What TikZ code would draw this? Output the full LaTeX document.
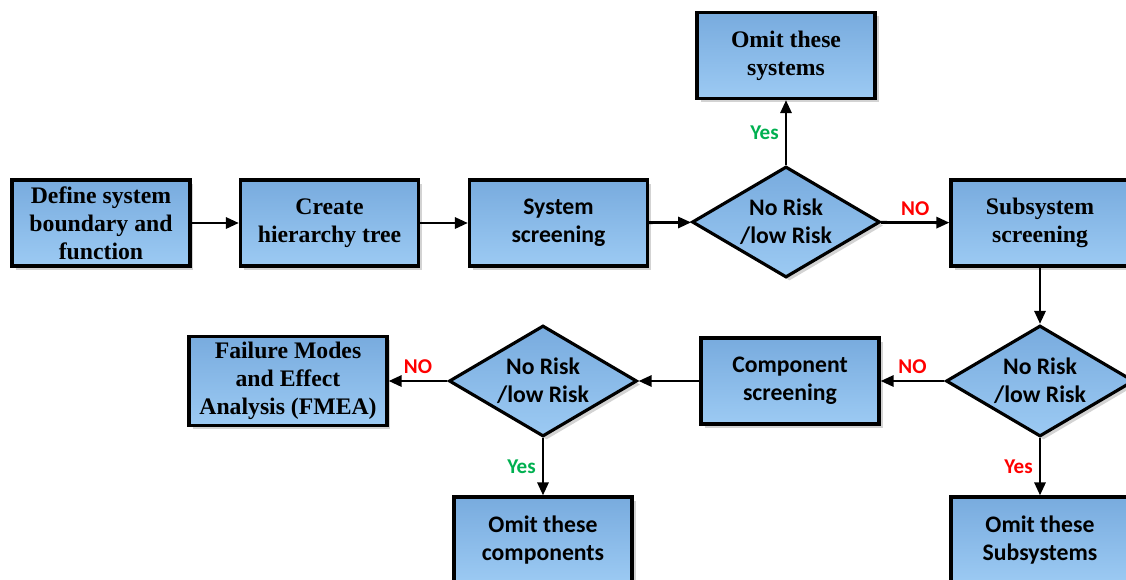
\documentclass[tikz,border=0pt]{standalone}
\usepackage{fontspec}
\setmainfont{Liberation Serif}
\newfontfamily\calibri{Carlito}
\usetikzlibrary{shapes.geometric,arrows.meta,shadows}
\definecolor{boxtop}{HTML}{78ABDE}
\definecolor{boxbot}{HTML}{9CCAF3}
\definecolor{yesgreen}{HTML}{00B050}

\begin{document}
\begin{tikzpicture}[x=0.02cm,y=-0.02cm]

\tikzstyle{box}=[rectangle,draw,line width=1.8pt,top color=boxtop,bottom color=boxbot,
  minimum width=3.56cm,minimum height=1.72cm,align=center,font=\fontsize{13.5}{16}\selectfont\bfseries,
  drop shadow={shadow xshift=2pt,shadow yshift=-2pt,opacity=0.35,fill=gray}]
\tikzstyle{cbox}=[box,font=\calibri\fontsize{13.5}{16}\selectfont\bfseries]
\tikzstyle{dia}=[diamond,aspect=1.7,draw,line width=1.8pt,top color=boxtop,bottom color=boxbot,inner sep=0pt,
  minimum width=3.76cm,minimum height=2.22cm,align=center,font=\calibri\fontsize{13.5}{16}\selectfont\bfseries,
  drop shadow={shadow xshift=2pt,shadow yshift=-2pt,opacity=0.35,fill=gray}]
\tikzstyle{arr}=[-{Triangle[length=0.26cm,width=0.22cm]},line width=1.6pt]
\tikzstyle{lab}=[font=\calibri\fontsize{12}{14}\selectfont\bfseries]

\useasboundingbox (0,0) rectangle (1126,579);

\node[box]  (def)  at (101,223)  {Define system\\boundary and\\function} ;
\node[box]  (hier) at (329.5,223) {Create\\hierarchy tree} ;
\node[cbox] (sys)  at (558.5,223) {System\\screening} ;
\node[dia]  (d1)   at (786,222)  {No Risk\\/low Risk} ;
\node[box]  (oms)  at (786,55.5) {Omit these\\systems} ;
\node[box]  (sub)  at (1040,223) {Subsystem\\screening} ;
\node[dia]  (d2)   at (1040,381) {No Risk\\/low Risk} ;
\node[cbox] (comp) at (790,381)  {Component\\screening} ;
\node[dia]  (d3)   at (543,381)  {No Risk\\/low Risk} ;
\node[box,minimum width=3.96cm] (fmea) at (288,381) {Failure Modes\\and Effect\\Analysis (FMEA)} ;
\node[cbox] (omc)  at (543,540)  {Omit these\\components} ;
\node[cbox] (omsub) at (1040,540) {Omit these\\Subsystems} ;

\draw [arr] (def) -- (hier);
\draw [arr] (hier) -- (sys);
\draw [arr] (sys) -- (d1);
\draw [arr] (d1) -- node[lab,text=yesgreen,left] {Yes} (oms);
\draw [arr] (d1) -- node[lab,text=red,above] {NO} (sub);
\draw [arr] (sub) -- (d2);
\draw [arr] (d2) -- node[lab,text=red,above] {NO} (comp);
\draw [arr] (comp) -- (d3);
\draw [arr] (d3) -- node[lab,text=red,above] {NO} (fmea);
\draw [arr] (d3) -- node[lab,text=yesgreen,left] {Yes} (omc);
\draw [arr] (d2) -- node[lab,text=red,left] {Yes} (omsub);

\end{tikzpicture}
\end{document}
